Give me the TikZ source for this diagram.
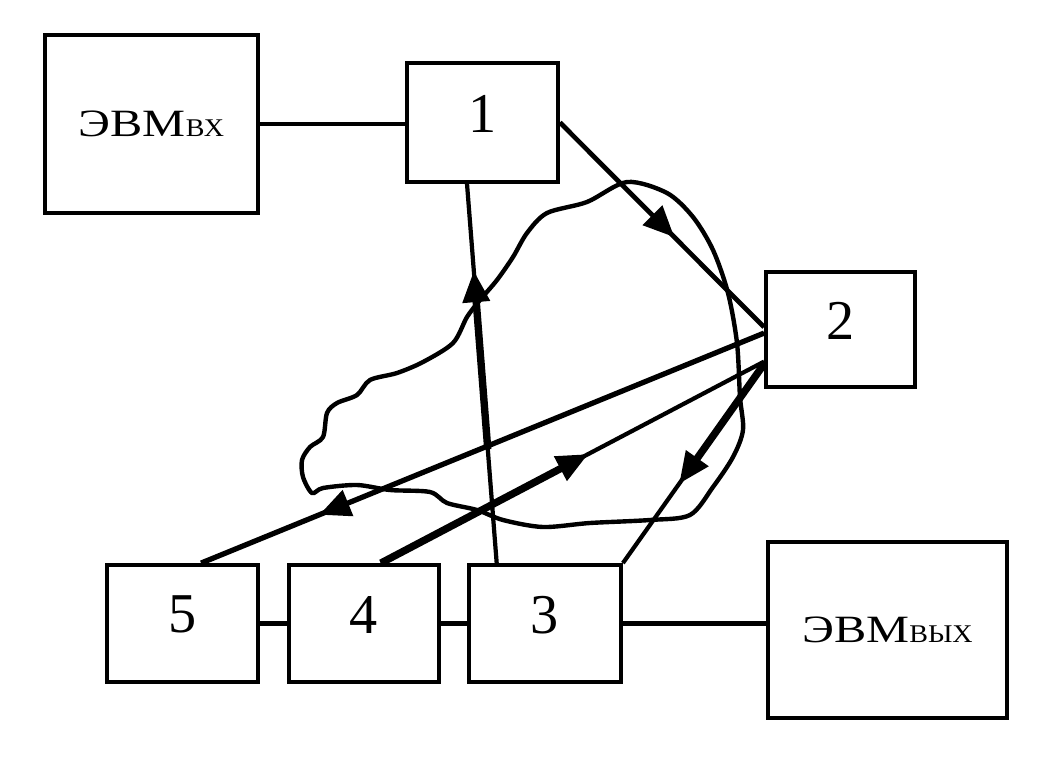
\documentclass[tikz,border=0pt]{standalone}
\usepackage{fontspec}
\setmainfont{Liberation Serif}
\usetikzlibrary{positioning,calc,arrows.meta,decorations.markings}
\tikzset{block/.style={draw,line width=2.2pt,inner sep=0pt}}
\tikzset{number/.style={font=\numfont,text depth=0.36cm}}
\tikzset{link/.style={line width=2.4pt}}
\tikzset{beam/.style={line width=2.7pt}}
\tikzset{heavy/.style={line width=4.2pt}}
\tikzset{object/.style={line width=2.5pt}}
\tikzset{arrowat/.style={postaction={decorate},decoration={markings,mark=at position #1 with {\arrow{Triangle[length=0.62cm,width=0.54cm]}}}}}
\newcommand{\numfont}{\fontsize{32}{32}\selectfont}
\newcommand{\evmmain}[1]{\scalebox{1.25}[1]{\fontsize{22}{22}\selectfont #1}}
\newcommand{\evmsub}[1]{\scalebox{1.1}[1]{\fontsize{14.5}{14.5}\selectfont #1}}

\begin{document}
\begin{tikzpicture}[x=0.02cm,y=-0.02cm]
  \useasboundingbox (0,0) rectangle (1049,761);

  % the object
  \draw[object] plot[smooth cycle,tension=0.5] coordinates {
    (627,182) (667,193) (693,217) (713,250) (728,293) (737,343) (740,397)
    (743,430) (733,457) (713,487) (690,515) (650,520) (590,523) (543,527)
    (503,520) (477,510) (447,503) (430,492) (390,490) (357,485) (323,488)
    (312,493) (303,477) (302,460) (310,447) (323,437) (327,413) (337,403)
    (357,395) (370,380) (397,373) (423,362) (453,343) (467,317) (480,300)
    (497,280) (513,257) (527,233) (547,213) (587,202)};

  % blocks
  \node[block,minimum width=4.26cm,minimum height=3.56cm] (evmin) at (151.5,124)
    {\evmmain{ЭВМ}\evmsub{ВХ}};
  \node[block,number,minimum width=3.02cm,minimum height=2.38cm] (b1) at (482.5,122.5) {1};
  \node[block,number,minimum width=2.98cm,minimum height=2.3cm] (b2) at (840.5,329.5) {2};
  \node[block,minimum width=4.78cm,minimum height=3.52cm] (evmout) at (887.5,630)
    {\evmmain{ЭВМ}\evmsub{ВЫХ}};
  \node[block,number,minimum width=3.02cm,minimum height=2.34cm] (b5) at (182.5,623.5) {5};
  \node[block,number,minimum width=3cm,minimum height=2.34cm] (b4) at (364,623.5) {4};
  \node[block,number,minimum width=3.04cm,minimum height=2.34cm] (b3) at (545,623.5) {3};

  % plain links
  \draw[link] (evmin.east) -- (evmin.east -| b1.west);
  \draw[link] (b5.east) -- (b4.west);
  \draw[link] (b4.east) -- (b3.west);
  \draw[link] (b3.east) -- (b3.east -| evmout.west);

  % points on the block sides
  \coordinate (p12) at ($(b2.north west)!.48!(b2.south west)$);
  \coordinate (p25) at ($(b2.north west)!.53!(b2.south west)$);
  \coordinate (p42) at ($(b2.north west)!.77!(b2.south west)$);
  \coordinate (p23) at ($(b2.north west)!.79!(b2.south west)$);
  \coordinate (p1) at ($(b1.south west)!.4!(b1.south east)$);
  \coordinate (p3) at ($(b3.north west)!.19!(b3.north east)$);
  \coordinate (p4) at ($(b4.north west)!.61!(b4.north east)$);
  \coordinate (p5) at ($(b5.north west)!.62!(b5.north east)$);

  % beams
  \draw[beam,arrowat=0.56] (b1.east) -- (p12);
  \draw[beam,line width=3pt,arrowat=0.79] (p25) -- (p5);
  \draw[link,arrowat=0.77] (p3) -- (p1);
  \draw[heavy] ($(p3)!.3!(p1)$) -- ($(p3)!.72!(p1)$);
  \draw[link,arrowat=0.54] (p4) -- (p42);
  \draw[heavy] (p4) -- ($(p4)!.5!(p42)$);
  \draw[link,arrowat=0.6] (p23) -- (b3.north east);
  \draw[heavy] (p23) -- ($(p23)!.55!(b3.north east)$);

\end{tikzpicture}
\end{document}
